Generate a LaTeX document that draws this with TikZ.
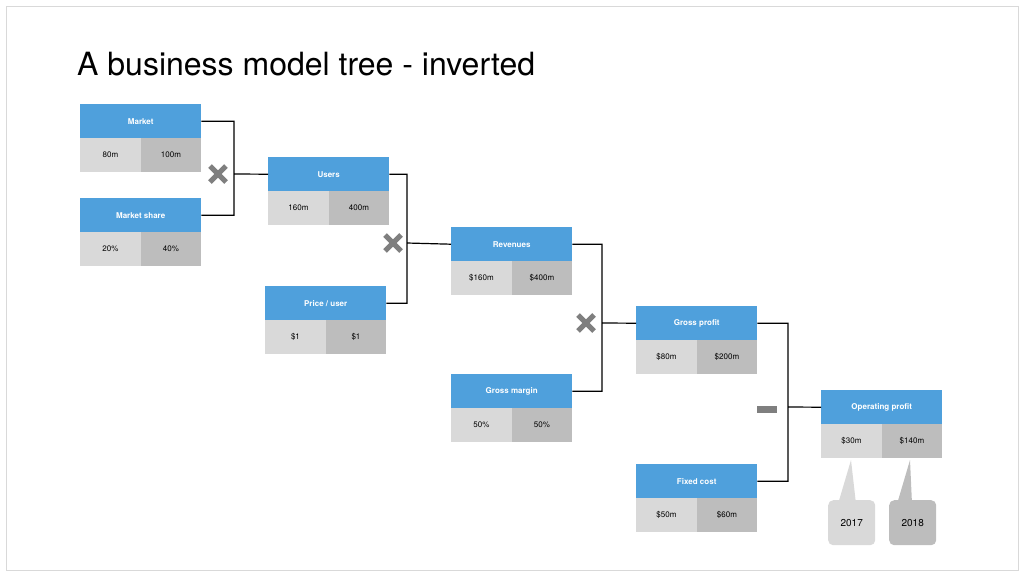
\documentclass[tikz,border=0pt]{standalone}
\usepackage{fontspec}
\setmainfont{TeX Gyre Heros}
\definecolor{hb}{HTML}{4FA0DC}
\definecolor{gl}{HTML}{D9D9D9}
\definecolor{gd}{HTML}{BDBDBD}
\definecolor{mk}{HTML}{7F7F7F}
\tikzset{
 hd/.style={fill=hb,text=white,font=\fontsize{8}{10}\selectfont\bfseries,minimum width=121pt,minimum height=34pt,anchor=north west,inner sep=0pt},
 va/.style={fill=gl,font=\fontsize{8}{10}\selectfont,minimum width=60.5pt,minimum height=34pt,anchor=north west,inner sep=0pt},
 vb/.style={va,fill=gd},
 ln/.style={draw=black,line width=1.2pt},
 xm/.style={draw=mk,line width=5pt},
}
\newcommand{\bx}[6]{%
 \node[hd] (#1-h) at (#2,#3) {#4};
 \node[va] (#1-a) at (#2,#3+34) {#5};
 \node[vb] (#1-b) at (#2+60.5,#3+34) {#6};}
\newcommand{\xmark}[3]{\draw[xm] (#2-8,#3-8) -- (#2+8,#3+8) (#2-8,#3+8) -- (#2+8,#3-8);}
\begin{document}
\begin{tikzpicture}[x=1pt,y=-1pt]
\useasboundingbox (0,0) rectangle (1024,576);
\draw[gl,line width=1pt] (6,6) rectangle (1018,570);
\node[anchor=base west,font=\fontsize{32}{36}\selectfont,inner sep=0pt] (title) at (77,75) {A business model tree - inverted};
\bx{m}{80}{104}{Market}{80m}{100m}
\bx{ms}{80}{198}{Market share}{20\%}{40\%}
\bx{u}{268}{157}{Users}{160m}{400m}
\bx{p}{265}{286}{Price / user}{\$1}{\$1}
\bx{r}{451}{227}{Revenues}{\$160m}{\$400m}
\bx{gm}{451}{374}{Gross margin}{50\%}{50\%}
\bx{gp}{636}{306}{Gross profit}{\$80m}{\$200m}
\bx{fc}{636}{464}{Fixed cost}{\$50m}{\$60m}
\bx{op}{821}{390}{Operating profit}{\$30m}{\$140m}
\coordinate (j1) at (234,174);
\coordinate (j2) at (407,243);
\coordinate (j3) at (602,323);
\coordinate (j4) at (788,407);
\draw[ln] (m-h.east) -| (j1) (ms-h.east) -| (j1) -- (u-h.west);
\draw[ln] (u-h.east) -| (j2) (p-h.east) -| (j2) -- (r-h.west);
\draw[ln] (r-h.east) -| (j3) (gm-h.east) -| (j3) -- (gp-h.west);
\draw[ln] (gp-h.east) -| (j4) (fc-h.east) -| (j4) -- (op-h.west);
\xmark{x1}{218}{174}
\xmark{x2}{393}{243}
\xmark{x3}{586}{323}
\fill[mk] (757,406) rectangle (777,413);
\fill[gl] (838,504) -- (851,460) -- (856,504) -- cycle;
\fill[gd] (897,504) -- (910,460) -- (912,504) -- cycle;
\node[fill=gl,rounded corners=5pt,minimum width=47pt,minimum height=45pt,anchor=north west,font=\fontsize{10}{12}\selectfont] (c1) at (828,500) {2017};
\node[fill=gd,rounded corners=5pt,minimum width=47pt,minimum height=45pt,anchor=north west,font=\fontsize{10}{12}\selectfont] (c2) at (889,500) {2018};
\end{tikzpicture}
\end{document}
